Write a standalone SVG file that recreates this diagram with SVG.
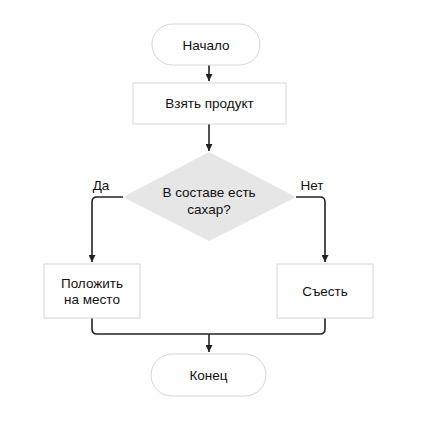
<svg xmlns="http://www.w3.org/2000/svg" width="426" height="431" viewBox="0 0 426 431">
<style>
.t{font-family:"Liberation Sans",Arial,sans-serif;font-size:13.5px;fill:#111;text-anchor:middle}
.box{fill:#fff;stroke:#d6d6d6;stroke-width:1}
.dia{fill:#e6e6e6}
.ln{fill:none;stroke:#222;stroke-width:1.6}
</style>
<defs>
<marker id="ah" viewBox="0 0 10 10" refX="10" refY="5" markerWidth="7" markerHeight="7" markerUnits="userSpaceOnUse" orient="auto">
<path d="M0,0 L10,5 L0,10 z" fill="#222"/>
</marker>
</defs>
<rect width="426" height="431" fill="#fff"/>
<g id="connectors">
<path class="ln" d="M209,65 V81" marker-end="url(#ah)"/>
<path class="ln" d="M209,124 V151" marker-end="url(#ah)"/>
<path class="ln" d="M123,197 H97 Q92,197 92,202 V262" marker-end="url(#ah)"/>
<path class="ln" d="M296,197 H320 Q325,197 325,202 V262" marker-end="url(#ah)"/>
<path class="ln" d="M92,318 V329 Q92,334 97,334 H320 Q325,334 325,329 V318"/>
<path class="ln" d="M209,334 V352" marker-end="url(#ah)"/>
</g>
<g id="start">
<rect class="box" x="152" y="24" width="108" height="41" rx="20.5"/>
<text class="t" x="206" y="50">Начало</text>
</g>
<g id="take">
<rect class="box" x="133" y="83" width="153" height="41"/>
<text class="t" x="209.5" y="108">Взять продукт</text>
</g>
<g id="decision">
<polygon class="dia" points="209,152 296,197 209,241 123,197"/>
<text class="t" x="209" y="196.5">В составе есть</text>
<text class="t" x="209" y="214">сахар?</text>
</g>
<g id="labels">
<text class="t" x="101" y="190">Да</text>
<text class="t" x="312" y="190">Нет</text>
</g>
<g id="putback">
<rect class="box" x="44" y="264" width="96" height="54"/>
<text class="t" x="92" y="287.5">Положить</text>
<text class="t" x="92" y="303.5">на место</text>
</g>
<g id="eat">
<rect class="box" x="277" y="264" width="96" height="54"/>
<text class="t" x="325" y="296">Съесть</text>
</g>
<g id="end">
<rect class="box" x="151" y="354" width="115" height="42" rx="21"/>
<text class="t" x="208.5" y="380">Конец</text>
</g>
</svg>
